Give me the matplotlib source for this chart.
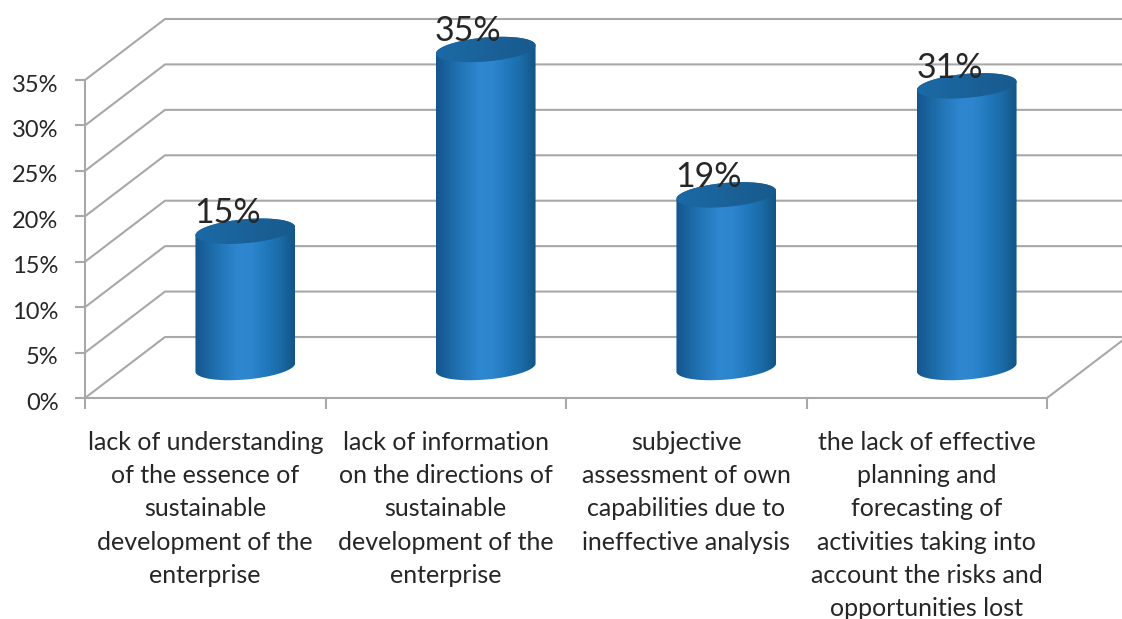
import numpy as np
import matplotlib
matplotlib.use('Agg')
import matplotlib.pyplot as plt
from matplotlib.colors import LinearSegmentedColormap
from matplotlib.patches import Polygon
from matplotlib.transforms import ScaledTranslation

plt.rcParams['font.family'] = ['Lato', 'DejaVu Sans']

# Data
categories = [
    "lack of understanding\nof the essence of\nsustainable\ndevelopment of the\nenterprise",
    "lack of information\non the directions of\nsustainable\ndevelopment of the\nenterprise",
    "subjective\nassessment of own\ncapabilities due to\nineffective analysis",
    "the lack of effective\nplanning and\nforecasting of\nactivities taking into\naccount the risks and\nopportunities lost",
]
values = [15, 35, 19, 31]
y_ticks = [0, 5, 10, 15, 20, 25, 30, 35]

W, H = 1122, 619
GRID = '#a8a8a8'
TEXT = '#262626'

fig = plt.figure(figsize=(W / 100, H / 100), dpi=100)
# Front plane of the fake 3D box, in figure fractions
ax = fig.add_axes([85 / W, 1 - 398 / H, (1047 - 85) / W, (398 - 80) / H])
ax.set_xlim(0, len(values))
ax.set_ylim(0, 35)
ax.patch.set_alpha(0)

# Size of one pixel in data units
px_x = len(values) / (1047 - 85)
px_y = 35 / (398 - 80)

# Depth of the box
dx = 80 * px_x
dy = 61 * px_y

# Grid on the back wall and the side wall
for t in y_ticks:
    ax.plot([0, dx, len(values) + dx], [t, t + dy, t + dy], color=GRID, lw=1.5,
            clip_on=False, zorder=1)
ax.plot([len(values), len(values) + dx], [0, dy], color=GRID, lw=1.5, clip_on=False, zorder=1)

for s in ['top', 'right']:
    ax.spines[s].set_visible(False)
for s in ['left', 'bottom']:
    ax.spines[s].set_color(GRID)
    ax.spines[s].set_linewidth(1.5)

ax.set_yticks(y_ticks)
ax.set_yticklabels([f"{t}%" for t in y_ticks], fontsize=17, color=TEXT)
ax.tick_params(axis='y', length=7, width=1.5, color=GRID, pad=12)
# The labels sit a little under their ticks
for label in ax.get_yticklabels():
    label.set_transform(label.get_transform() + ScaledTranslation(0, -3 / 100, fig.dpi_scale_trans))

ax.set_xticks(range(len(values) + 1))
ax.set_xticklabels([])
ax.tick_params(axis='x', which='major', length=8, width=1.5, color=GRID)
ax.set_xticks(np.arange(len(values)) + 0.5, minor=True)
ax.set_xticklabels(categories, minor=True, fontsize=18, color=TEXT, linespacing=1.53, va='top')
ax.tick_params(axis='x', which='minor', length=0, pad=24)

# Cylinder shading
body_cmap = LinearSegmentedColormap.from_list('body', [
    '#14558f', '#1b68a4', '#2579bb', '#2f87d0', '#2d85cd', '#2079bc', '#1a6ba7', '#135484'])
top_cmap = LinearSegmentedColormap.from_list('top', ['#1a6aa6', '#1b6299', '#175a8d'])
shade = np.linspace(0, 1, 256).reshape(1, -1)

radius_x = 50 * px_x
radius_y = 12 * px_y
tilt = np.radians(5)


def ellipse(cx, cy, start, stop):
    t = np.linspace(start, stop, 80)
    x_px = np.cos(t) * 50
    y_px = np.sin(t) * 12
    x = cx + (x_px * np.cos(tilt) - y_px * np.sin(tilt)) * px_x
    y = cy + (x_px * np.sin(tilt) + y_px * np.cos(tilt)) * px_y
    return np.column_stack([x, y])


def shaded(points, cmap, extent, z):
    patch = Polygon(points, closed=True, transform=ax.transData, fc='none', ec='none')
    ax.add_patch(patch)
    patch.set_clip_on(False)
    im = ax.imshow(shade, cmap=cmap, extent=extent, aspect='auto', zorder=z, interpolation='bilinear')
    im.set_clip_box(fig.bbox)
    im.set_clip_path(patch)


for i, v in enumerate(values):
    cx = i + 0.5 + dx / 2
    base = dy / 2
    top = base + v
    front = ellipse(cx, base, np.pi, 2 * np.pi)
    back = ellipse(cx, top, 0, np.pi)
    outline = np.vstack([front, back])
    shaded(outline, body_cmap,
           [cx - radius_x, cx + radius_x, base - 2 * radius_y, top + 2 * radius_y], 3)
    shaded(ellipse(cx, top, 0, 2 * np.pi), top_cmap,
           [cx - radius_x, cx + radius_x, top - 2 * radius_y, top + 2 * radius_y], 4)
    ax.annotate(f"{v}%", (cx, top), xytext=(-12.5, 13), textcoords='offset points',
                ha='center', va='center', fontsize=24.5, color=TEXT, zorder=5,
                annotation_clip=False)

ax.set_xlim(0, len(values))
ax.set_ylim(0, 35)

fig.savefig('out.png', dpi=100, facecolor='white')
